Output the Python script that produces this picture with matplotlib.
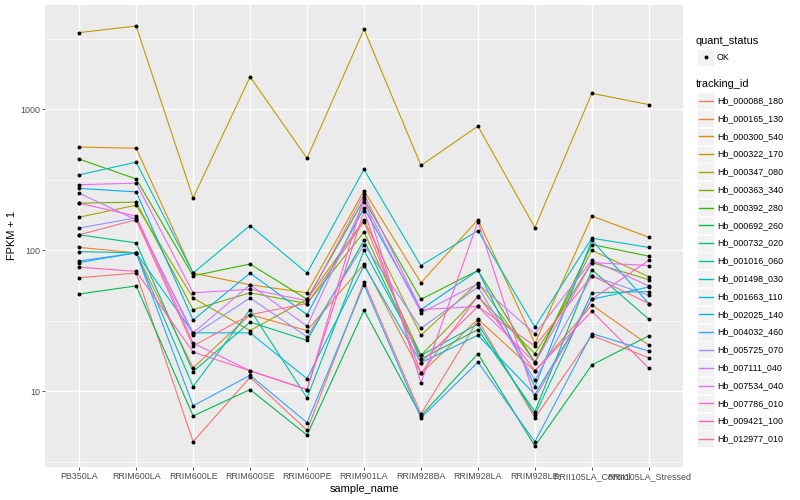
import numpy as np
import matplotlib
matplotlib.use("Agg")
import matplotlib.pyplot as plt
from matplotlib.ticker import FixedLocator, NullFormatter
from matplotlib.patches import Rectangle
from matplotlib.lines import Line2D

plt.rcParams['font.family'] = ['Liberation Sans', 'DejaVu Sans']

samples = ["PB350LA", "RRIM600LA", "RRIM600LE", "RRIM600SE", "RRIM600PE", "RRIM901LA",
           "RRIM928BA", "RRIM928LA", "RRIM928LE", "RRII105LA_Control", "RRII105LA_Stressed"]

tracking_ids = ["Hb_000088_180", "Hb_000165_130", "Hb_000300_540", "Hb_000322_170",
                "Hb_000347_080", "Hb_000363_340", "Hb_000392_280", "Hb_000692_260",
                "Hb_000732_020", "Hb_001016_060", "Hb_001498_030", "Hb_001663_110",
                "Hb_002025_140", "Hb_004032_460", "Hb_005725_070", "Hb_007111_040",
                "Hb_007534_040", "Hb_007786_010", "Hb_009421_100", "Hb_012977_010"]

colors = ["#F8766D", "#EA8331", "#D89000", "#C09B00", "#A3A500", "#7CAE00", "#39B600",
          "#00BB4E", "#00BF7D", "#00C1A3", "#00BFC4", "#00BAE0", "#00B0F6", "#35A2FF",
          "#9590FF", "#C77CFF", "#E76BF3", "#FA62DB", "#FF62BC", "#FF6C91"]

Hb_000088_180 = [64, 69, 4.4, 12.6, 5.3, 60, 6.9, 32, 6.5, 24.9, 17.3]
Hb_000165_130 = [105, 96, 14.7, 35, 27, 80, 13.4, 32.5, 13.9, 41, 21.3]
Hb_000300_540 = [540, 530, 69, 57, 50, 265, 59, 165, 21.9, 175, 124]
Hb_000322_170 = [3500, 3900, 235, 1700, 450, 3700, 400, 760, 145, 1300, 1080]
Hb_000347_080 = [172, 209, 46, 27, 45, 164, 25, 59, 16.2, 100, 65]
Hb_000363_340 = [216, 220, 38, 50, 42, 135, 18, 47, 18.5, 82, 62]
Hb_000392_280 = [444, 321, 66, 80, 45, 230, 45, 72, 16, 110, 91]
Hb_000692_260 = [49, 56, 6.7, 10.3, 4.9, 37.6, 6.7, 18.5, 4.1, 15.4, 24.8]
Hb_000732_020 = [129, 113, 13.8, 31, 23, 118, 17, 27.4, 7.2, 73, 32.5]
Hb_001016_060 = [98, 96, 10.8, 38, 9.0, 100, 18, 30, 6.8, 50, 51]
Hb_001498_030 = [343, 422, 69, 150, 69, 375, 78, 138, 28.6, 122, 105]
Hb_001663_110 = [82, 96, 26, 26, 12.3, 78, 16, 25, 9.5, 45, 55]
Hb_002025_140 = [275, 260, 32, 69, 35, 200, 38, 72, 10.8, 118, 42]
Hb_004032_460 = [84, 96, 7.9, 13, 6.0, 57, 6.5, 16.1, 4.4, 25.7, 19.3]
Hb_005725_070 = [144, 170, 25, 46, 24.4, 110, 28, 55, 12, 66, 48]
Hb_007111_040 = [254, 165, 26, 57, 29, 220, 36, 58, 25.6, 85, 56]
Hb_007534_040 = [292, 300, 50, 53, 44, 250, 38, 40, 16, 82, 78]
Hb_007786_010 = [216, 175, 22, 14, 10.3, 240, 11.5, 160, 9, 45, 85]
Hb_009421_100 = [76, 71, 19, 14, 10.3, 190, 13.4, 47.5, 14, 37, 14.6]
Hb_012977_010 = [129, 165, 21, 35, 42, 160, 16, 40, 21, 66, 42]

series = [Hb_000088_180, Hb_000165_130, Hb_000300_540, Hb_000322_170, Hb_000347_080,
          Hb_000363_340, Hb_000392_280, Hb_000692_260, Hb_000732_020, Hb_001016_060,
          Hb_001498_030, Hb_001663_110, Hb_002025_140, Hb_004032_460, Hb_005725_070,
          Hb_007111_040, Hb_007534_040, Hb_007786_010, Hb_009421_100, Hb_012977_010]

W, H = 800, 500
fig = plt.figure(figsize=(W / 100, H / 100), dpi=100)
pl, pr, pt, pb = 45, 683, 5, 467
ax = fig.add_axes([pl / W, 1 - pb / H, (pr - pl) / W, (pb - pt) / H])
ax.set_facecolor('#EBEBEB')
for s in ax.spines.values():
    s.set_visible(False)

x = np.arange(len(samples))
for vals, col in zip(series, colors):
    ax.plot(x, vals, color=col, lw=0.8, zorder=2, solid_capstyle='butt')
for vals in series:
    ax.scatter(x, vals, s=8, color='black', zorder=3, linewidths=0)

ax.set_yscale('log')
allv = np.log10(np.concatenate([np.asarray(v, float) for v in series]))
lo, hi = allv.min(), allv.max()
pad = 0.05 * (hi - lo)
ax.set_ylim(10 ** (lo - pad), 10 ** (hi + pad))
ax.set_xlim(-0.6, len(samples) - 0.4)

ax.yaxis.set_major_locator(FixedLocator([10, 100, 1000]))
ax.set_yticklabels(["10", "100", "1000"])
ax.yaxis.set_minor_locator(FixedLocator([10 ** 0.5, 10 ** 1.5, 10 ** 2.5, 10 ** 3.5]))
ax.yaxis.set_minor_formatter(NullFormatter())
ax.set_xticks(x)
ax.set_xticklabels(samples)

ax.grid(which='major', color='white', lw=1.05, zorder=0)
ax.grid(which='minor', axis='y', color='white', lw=0.5, zorder=0)
ax.set_axisbelow(True)
ax.tick_params(which='major', length=2.2, width=0.6, color='#333333',
               labelcolor='#4D4D4D', labelsize=6.4, pad=1.5)
ax.tick_params(which='minor', length=0)

fig.text((pl + pr) / 2 / W, 1 - 489 / H, "sample_name", ha='center', va='center',
         fontsize=7.9, color='black')
fig.text(12 / W, 1 - (pt + pb) / 2 / H, "FPKM + 1", ha='center', va='center',
         rotation=90, fontsize=7.9, color='black')

# legend
lax = fig.add_axes([0, 0, 1, 1])
lax.set_xlim(0, W)
lax.set_ylim(H, 0)
lax.axis('off')
lax.text(696, 41, "quant_status", fontsize=7.9, va='center', ha='left')
kx0, kw, kh = 697, 17, 17
lax.add_patch(Rectangle((kx0, 57 - kh / 2), kw, kh, facecolor='#F2F2F2', edgecolor='white',
                        lw=0.5, zorder=1))
lax.scatter([kx0 + kw / 2], [57], s=8, color='black', linewidths=0, zorder=3)
lax.text(717, 57, "OK", fontsize=6.4, va='center', ha='left')
lax.text(696, 84, "tracking_id", fontsize=7.9, va='center', ha='left')
y0, dy = 100.7, 17.8
for i, (tid, col) in enumerate(zip(tracking_ids, colors)):
    yy = y0 + i * dy
    lax.add_patch(Rectangle((kx0, yy - kh / 2), kw, kh, facecolor='#F2F2F2', edgecolor='white',
                            lw=0.5, zorder=1))
    lax.add_line(Line2D([kx0 + 1.5, kx0 + kw - 1.5], [yy, yy], color=col, lw=1.0, zorder=3))
    lax.text(717, yy, tid, fontsize=6.4, va='center', ha='left')

fig.savefig("out.png", dpi=100)
